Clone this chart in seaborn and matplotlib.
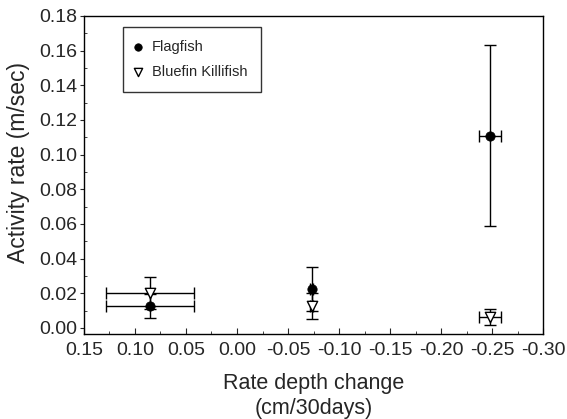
import numpy as np
import pandas as pd
import seaborn as sns
import matplotlib.pyplot as plt

# values
depth_rate = [0.085, -0.073, -0.248]
flag_activity = [0.0125, 0.0225, 0.111]
flag_yerr = [0.007, 0.0127, 0.052]
flag_xerr = [0.043, 0.001, 0.011]
killi_activity = [0.020, 0.0125, 0.0062]
killi_yerr = [0.0093, 0.0075, 0.0045]
killi_xerr = [0.043, 0.001, 0.011]

df = pd.DataFrame({
    'rate': depth_rate * 2,
    'activity': flag_activity + killi_activity,
    'species': ['Flagfish'] * 3 + ['Bluefin Killifish'] * 3,
})

sns.set_style('ticks')
plt.rcParams['font.family'] = ['Liberation Sans', 'DejaVu Sans']

fig = plt.figure(figsize=(5.67, 4.19), dpi=100)
ax = fig.add_axes([0.148, 0.203, 0.810, 0.759])

# error bars first, then markers on top
ax.errorbar(depth_rate, flag_activity, yerr=flag_yerr, xerr=flag_xerr,
            fmt='none', ecolor='black', elinewidth=1, capsize=4, capthick=1)
ax.errorbar(depth_rate, killi_activity, yerr=killi_yerr, xerr=killi_xerr,
            fmt='none', ecolor='black', elinewidth=1, capsize=4, capthick=1)

sns.scatterplot(data=df[df['species'] == 'Flagfish'], x='rate', y='activity',
                marker='o', color='black', edgecolor='black', s=45,
                label='Flagfish', ax=ax, zorder=3)
sns.scatterplot(data=df[df['species'] == 'Bluefin Killifish'], x='rate', y='activity',
                marker='v', facecolor='white', edgecolor='black', linewidth=1, s=55,
                label='Bluefin Killifish', ax=ax, zorder=3)

ax.set_xlim(0.15, -0.30)
ax.set_ylim(-0.0035, 0.18)
ax.set_xticks(np.arange(0.15, -0.31, -0.05))
ax.set_xticklabels(['0.15', '0.10', '0.05', '0.00', '-0.05', '-0.10',
                    '-0.15', '-0.20', '-0.25', '-0.30'])
ax.set_xticks(np.arange(0.125, -0.30, -0.05), minor=True)
ax.set_yticks(np.arange(0, 0.181, 0.02))
ax.set_yticklabels([f'{v:.2f}' for v in np.arange(0, 0.181, 0.02)])
ax.set_yticks(np.arange(0.01, 0.18, 0.02), minor=True)
ax.tick_params(axis='x', direction='in', length=4, labelsize=14, pad=6)
ax.tick_params(axis='x', which='minor', direction='in', length=2)
ax.tick_params(axis='y', direction='out', length=3, labelsize=14, pad=2)
ax.tick_params(axis='y', which='minor', direction='in', length=2)

for sp in ax.spines.values():
    sp.set_visible(True)
    sp.set_color('black')
    sp.set_linewidth(1)

ax.set_xlabel('Rate depth change\n(cm/30days)', fontsize=15.5, labelpad=10,
              linespacing=1.25)
ax.set_ylabel('Activity rate (m/sec)', fontsize=16.5)
ax.yaxis.set_label_coords(-0.118, 0.54)

leg = ax.legend(loc='upper left', bbox_to_anchor=(0.085, 0.965), borderaxespad=0,
                fontsize=10.5, frameon=True, fancybox=False, edgecolor='black',
                markerscale=0.8, handlelength=0.2, handletextpad=0.9,
                borderpad=0.9, labelspacing=0.75)
leg.get_frame().set_linewidth(1)

fig.savefig('out.png', dpi=100)
